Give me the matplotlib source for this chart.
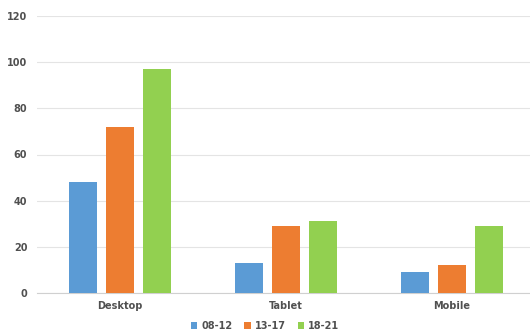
import matplotlib
matplotlib.use('Agg')
import matplotlib.pyplot as plt
import numpy as np

devices = ['Desktop', 'Tablet', 'Mobile']
series_names = ['08-12', '13-17', '18-21']
vals_08_12 = [48, 13, 9]
vals_13_17 = [72, 29, 12]
vals_18_21 = [97, 31, 29]
colors = ['#5B9BD5', '#ED7D31', '#92D050']

fig = plt.figure(figsize=(5.3, 3.34), dpi=100)
ax = fig.add_axes([37 / 530, 1 - 293 / 334, 498 / 530, 277 / 334])

x = np.arange(len(devices))
width = 0.17
step = 0.223
for i, (vals, name, c) in enumerate(zip([vals_08_12, vals_13_17, vals_18_21], series_names, colors)):
    ax.bar(x + (i - 1) * step, vals, width, color=c, label=name, zorder=3)

ax.set_xlim(-0.5, 2.5)
ax.set_ylim(0, 120)
ax.set_yticks(range(0, 121, 20))
ax.set_xticks(x)
ax.set_xticklabels(devices)
ax.grid(axis='y', color='#E4E4E4', linewidth=0.8, zorder=0)
for s in ['top', 'right', 'left']:
    ax.spines[s].set_visible(False)
ax.spines['bottom'].set_color('#D0D0D0')
ax.tick_params(length=0, labelsize=7, colors='#505050', pad=7)
ax.tick_params(axis='x', pad=6)
for t in ax.get_xticklabels() + ax.get_yticklabels():
    t.set_fontweight('bold')

leg = fig.legend(loc='center', bbox_to_anchor=(265 / 530, 1 - 326 / 334), ncol=3,
                 frameon=False, fontsize=7, handlelength=0.7, handleheight=0.7,
                 handletextpad=0.4, columnspacing=1.2)
for t in leg.get_texts():
    t.set_color('#505050')
    t.set_fontweight('bold')

fig.savefig('out.png', dpi=100)
